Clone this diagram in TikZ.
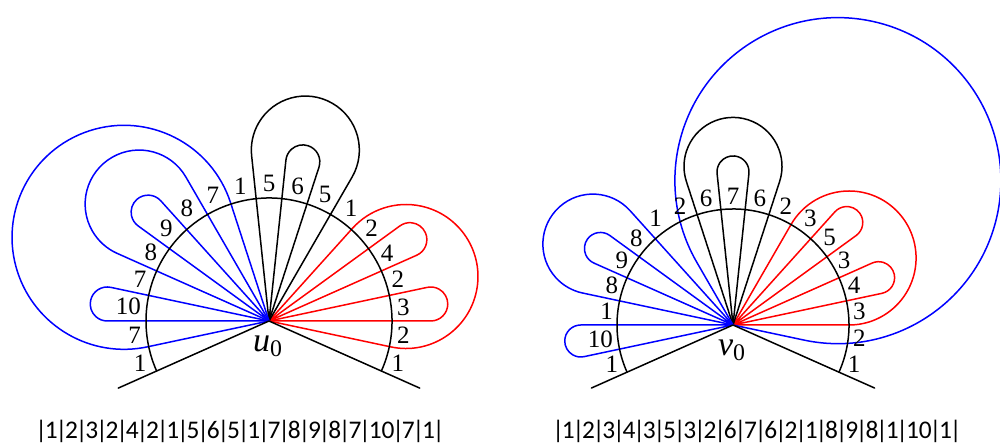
\documentclass[tikz,border=0pt]{standalone}
\usepackage{fontspec}
\setmainfont{Liberation Serif}
\newfontfamily\calibri{Carlito}
\newcommand\vb{\kern-.085em|\kern-.085em}
\begin{document}
\begin{tikzpicture}[line join=round, line cap=round, x=0.5pt, y=0.5pt, line width=0.75pt]
\tikzset{every node/.style={inner sep=1pt},
  lab/.style={font=\fontsize{12.5}{14}\selectfont},
  vert/.style={font=\fontsize{17}{20}\selectfont},
  word/.style={font=\calibri\fontsize{12.7}{14}\selectfont, anchor=base}}
\useasboundingbox (0,0) rectangle (1000,448);
% left: vertex u_0
\coordinate (u) at (269,127);
\foreach \a/\b/\r/\c in {0/12/17/red, 24/36/17/red, -12/48/72/red, 72/84/17/black, 60/96/54/black, 132/144/17/blue, 168/180/17/blue, 120/156/54/blue, 108/192/112/blue}
{
  \pgfmathsetmacro{\L}{\r/tan((\b-\a)/2)}
  \draw[\c] (u) -- ++(\a:\L) arc[start angle=\a-90, end angle=\b+90, radius=\r] -- (u);
}
\draw (u) ++(-24:123) arc[start angle=-24, end angle=204, radius=123];
\draw (u) -- ++(-24:165) (u) -- ++(204:165);
\foreach \t [count=\i from 0, evaluate=\i as \ang using {-18+12*\i}, evaluate=\i as \opp using {int(mod(162+12*\i,360))}] in {1,2,3,2,4,2,1,5,6,5,1,7,8,9,8,7,10,7,1}
  \path (u) ++(\ang:126) node[lab, anchor=\opp] (ul\i) {\t};
\node[vert] (u0) at (268,102) {\textit{u}\textsubscript{0}};
\node[word] (uw) at (240,9) {\vb1\vb2\vb3\vb2\vb4\vb2\vb1\vb5\vb6\vb5\vb1\vb7\vb8\vb9\vb8\vb7\vb10\vb7\vb1\vb};
% right: vertex v_0
\coordinate (v) at (733,123);
\foreach \a/\b/\r/\c in {12/24/16/red, 36/48/16/red, 0/60/67/red, 84/96/16/black, 72/108/49/black, 144/156/16/blue, 180/192/16/blue, 132/168/50/blue, -12/120/163/blue}
{
  \pgfmathsetmacro{\L}{\r/tan((\b-\a)/2)}
  \draw[\c] (v) -- ++(\a:\L) arc[start angle=\a-90, end angle=\b+90, radius=\r] -- (v);
}
\draw (v) ++(-24:116) arc[start angle=-24, end angle=204, radius=116];
\draw (v) -- ++(-24:155) (v) -- ++(204:155);
\foreach \t [count=\i from 0, evaluate=\i as \ang using {-18+12*\i}, evaluate=\i as \opp using {int(mod(162+12*\i,360))}] in {1,2,3,4,3,5,3,2,6,7,6,2,1,8,9,8,1,10,1}
  \path (v) ++(\ang:118) node[lab, anchor=\opp] (vl\i) {\t};
\node[vert] (v0) at (732,98) {\textit{v}\textsubscript{0}};
\node[word] (vw) at (757,9) {\vb1\vb2\vb3\vb4\vb3\vb5\vb3\vb2\vb6\vb7\vb6\vb2\vb1\vb8\vb9\vb8\vb1\vb10\vb1\vb};
\end{tikzpicture}
\end{document}
